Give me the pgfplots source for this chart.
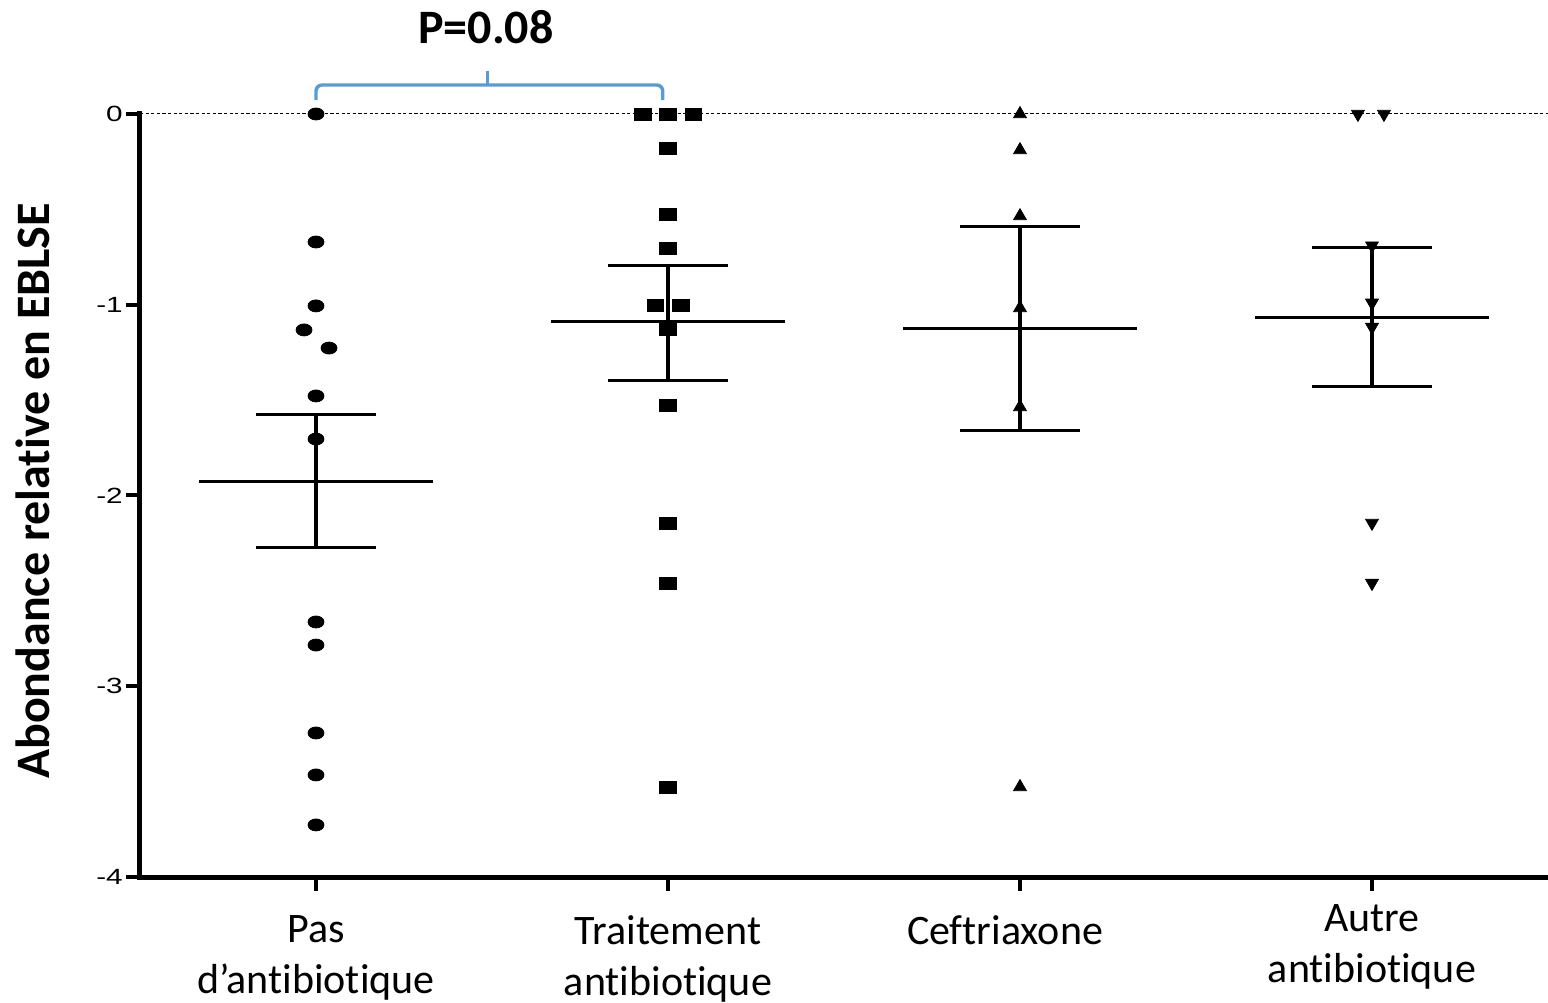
\documentclass[border=0pt]{standalone}
\usepackage{fontspec}
\setmainfont{Carlito}[Ligatures={NoCommon}]
\newfontfamily\arialf{Liberation Sans}
\usepackage{pgfplots}
\pgfplotsset{compat=1.18}
\definecolor{brk}{RGB}{91,155,213}
\begin{document}
\begin{tikzpicture}
\useasboundingbox (-70bp,-63bp) rectangle (704bp,438.5bp);
\begin{axis}[
  at={(0,0)}, anchor=south west,
  scale only axis, width=704bp, height=381.5bp,
  xmin=-0.5, xmax=3.5, ymin=-4, ymax=0,
  clip=false,
  axis x line*=bottom, axis y line*=left,
  axis line style={line width=2.5bp, line cap=rect},
  ytick={0,-1,-2,-3,-4},
  yticklabel style={font=\arialf\fontsize{11bp}{12bp}\selectfont, inner sep=1bp, xscale=1.35},
  /pgf/number format/assume math mode=true,
  xtick={0,1,2},
  xticklabels={{Pas\\d’antibiotique},{Traitement\\antibiotique},{Ceftriaxone\hspace*{15bp}}},
  extra x ticks={3},
  extra x tick labels={{Autre\\antibiotique}},
  extra x tick style={xticklabel style={yshift=5.5bp}},
  xticklabel style={align=center, font=\fontsize{21bp}{25.5bp}\selectfont, yshift=-9bp},
  tick align=outside,
  major tick length=7bp,
  tick style={line width=2bp, black},
  ylabel={\bfseries Abondance relative en EBLSE},
  ylabel style={font=\fontsize{24bp}{28bp}\selectfont, at={(axis description cs:0,0.506)}, anchor=base, yshift=45bp},
]
% dotted reference line at 0
\addplot[black, line width=0.5bp, dash pattern=on 1.6bp off 1.2bp] coordinates {(-0.5,0) (3.5,0)};

% group 1: Pas d'antibiotique
\addplot[only marks, mark=*, mark size=3bp, mark options={xscale=1.33, fill=black}, black] coordinates {
(0,0) (0,-0.671) (0,-1.006) (-0.034,-1.132) (0.037,-1.227) (0,-1.478) (0,-1.704)
(0,-2.663) (0,-2.784) (0,-3.245) (0,-3.465) (0,-3.727)};
% group 2: Traitement antibiotique
\addplot[only marks, mark=square*, mark size=3bp, mark options={xscale=1.4, fill=black}, black] coordinates {
(0.928,0) (1,0) (1.072,0) (1,-0.178) (1,-0.524) (1,-0.702) (0.964,-1.006) (1.036,-1.006)
(1,-1.127) (1,-1.526) (1,-2.144) (1,-2.459) (1,-3.528)};
% group 3: Ceftriaxone
\addplot[only marks, mark=triangle*, mark size=3.7bp, mark options={fill=black}, black] coordinates {
(2,0) (2,-0.189) (2,-0.535) (2,-1.017) (2,-1.536) (2,-3.528)};
% group 4: Autre antibiotique
\addplot[only marks, mark=triangle*, mark size=3.7bp, mark options={rotate=180, fill=black}, black] coordinates {
(2.96,0) (3.034,0) (3,-0.69) (3,-0.99) (3,-1.117) (3,-2.144) (3,-2.459)};

% means and SEM bars
\addplot[black, line width=1.5bp, unbounded coords=jump] coordinates {
(-0.332,-1.929) (0.332,-1.929) (0,nan)
(-0.17,-1.573) (0.17,-1.573) (0,nan)
(-0.17,-2.275) (0.17,-2.275) (0,nan)
(0.668,-1.09) (1.332,-1.09) (1,nan)
(0.83,-0.792) (1.17,-0.792) (1,nan)
(0.83,-1.395) (1.17,-1.395) (1,nan)
(1.668,-1.127) (2.332,-1.127) (2,nan)
(1.83,-0.592) (2.17,-0.592) (2,nan)
(1.83,-1.657) (2.17,-1.657) (2,nan)
(2.668,-1.069) (3.332,-1.069) (3,nan)
(2.83,-0.702) (3.17,-0.702) (3,nan)
(2.83,-1.426) (3.17,-1.426)};
\addplot[black, line width=2bp, unbounded coords=jump] coordinates {
(0,-1.573) (0,-2.275) (0,nan)
(1,-0.792) (1,-1.395) (1,nan)
(2,-0.592) (2,-1.657) (2,nan)
(3,-0.702) (3,-1.426)};

% significance bracket
\draw[brk, line width=1.7bp, rounded corners=3bp]
  (axis cs:0,0.073) |- (axis cs:0.488,0.152) -| (axis cs:0.985,0.073);
\draw[brk, line width=1.7bp] (axis cs:0.488,0.152) -- (axis cs:0.488,0.225);
\node[anchor=base, font=\bfseries\fontsize{24bp}{28bp}\selectfont] at (axis cs:0.483,0.372) {P=0.08};
\end{axis}
\end{tikzpicture}
\end{document}
